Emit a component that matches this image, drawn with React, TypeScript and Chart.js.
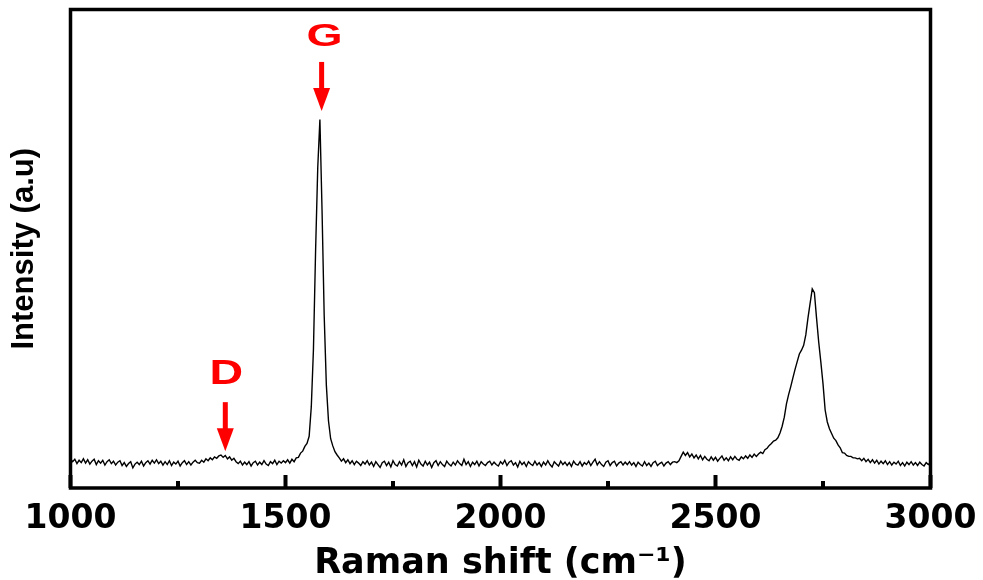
import React, { useEffect, useRef } from "react";
import { Chart, registerables } from "chart.js";

Chart.register(...registerables);

// Raman shift grid (cm^-1)
const X_START = 1000;
const X_STEP = 5;

// Intensity (a.u.), 100 cm^-1 per segment
const seg1000 = [6.1, 5.5, 6.0, 5.1, 5.8, 5.3, 6.1, 5.2, 5.9, 5.0, 5.6, 6.0, 4.9, 5.7, 5.2, 5.8, 4.8, 5.5, 5.9, 5.1];
const seg1100 = [5.6, 4.8, 5.4, 5.7, 4.7, 5.3, 4.5, 5.1, 5.5, 4.2, 5.0, 5.4, 4.9, 5.6, 4.6, 5.3, 5.7, 5.0, 5.8, 5.2];
const seg1200 = [5.9, 5.1, 5.6, 4.8, 5.5, 4.9, 5.7, 4.7, 5.4, 5.0, 5.6, 4.6, 5.3, 5.7, 4.9, 5.5, 4.8, 5.4, 5.8, 5.3];
const seg1300 = [5.2, 5.8, 5.4, 6.1, 5.7, 6.3, 5.9, 6.5, 6.2, 6.7, 6.9, 6.4, 6.8, 6.1, 6.5, 5.8, 6.2, 5.5, 5.1, 5.6];
const seg1400 = [4.8, 5.4, 4.9, 5.5, 4.6, 5.3, 5.6, 4.8, 5.4, 4.9, 5.7, 5.0, 4.7, 5.5, 5.1, 5.8, 4.9, 5.6, 5.2, 5.7];
const seg1500 = [5.3, 5.9, 5.2, 6.0, 5.5, 6.3, 6.4, 7.3, 7.7, 8.7, 9.3, 10.8, 17.0, 29.0, 49.7, 67.0, 77.0, 58.0, 36.0, 21.5];
const seg1600 = [14.0, 10.3, 8.8, 7.6, 6.9, 6.3, 5.6, 6.1, 5.3, 5.9, 5.1, 5.7, 4.9, 5.6, 5.2, 4.7, 5.5, 5.0, 5.7, 4.8];
const seg1700 = [5.4, 4.5, 5.5, 4.9, 4.3, 5.3, 5.6, 4.7, 5.4, 4.4, 5.7, 4.9, 4.6, 5.5, 4.8, 5.9, 4.5, 5.3, 5.6, 4.7];
const seg1800 = [5.5, 4.4, 5.8, 5.0, 4.6, 5.6, 4.8, 5.4, 4.3, 5.3, 5.7, 4.7, 5.5, 4.9, 4.5, 5.6, 5.0, 4.6, 5.4, 4.8];
const seg1900 = [5.7, 5.1, 4.7, 6.0, 4.9, 5.5, 4.5, 5.4, 4.9, 5.6, 4.6, 5.5, 5.0, 4.7, 5.3, 5.6, 4.8, 5.4, 4.9, 4.6];
const seg2000 = [5.5, 5.0, 5.8, 4.7, 5.4, 5.7, 4.8, 5.3, 4.4, 5.6, 4.9, 5.4, 4.5, 5.5, 5.0, 4.7, 5.6, 4.8, 5.3, 4.5];
const seg2100 = [5.4, 4.8, 5.7, 4.9, 4.4, 5.5, 5.0, 4.6, 5.6, 4.9, 5.4, 4.7, 5.3, 4.5, 5.6, 5.0, 4.8, 5.5, 4.6, 5.3];
const seg2200 = [4.9, 5.6, 4.7, 5.4, 6.0, 4.8, 5.5, 4.9, 4.5, 5.4, 5.7, 4.7, 5.3, 5.6, 4.6, 5.2, 5.5, 4.8, 5.4, 4.9];
const seg2300 = [5.5, 4.8, 5.3, 4.5, 5.4, 4.9, 4.6, 5.5, 4.7, 5.2, 4.5, 5.3, 5.6, 4.7, 5.1, 5.4, 4.6, 5.2, 5.5, 4.9];
const seg2400 = [5.4, 5.5, 5.3, 5.7, 6.6, 7.5, 6.8, 7.4, 6.5, 7.1, 6.3, 6.9, 6.1, 6.8, 5.9, 6.6, 6.0, 5.7, 6.5, 5.8];
const seg2500 = [6.4, 5.6, 6.2, 6.7, 5.8, 6.3, 5.7, 6.5, 5.9, 6.6, 6.0, 5.8, 6.5, 6.1, 6.7, 6.2, 6.9, 6.4, 7.1, 6.6];
const seg2600 = [7.1, 7.5, 7.2, 8.0, 8.3, 8.9, 9.3, 9.8, 10.0, 10.5, 11.5, 12.9, 14.8, 17.6, 19.5, 21.2, 23.0, 24.8, 26.4, 28.0];
const seg2700 = [28.8, 29.8, 32.0, 35.5, 38.6, 41.6, 40.8, 35.5, 30.5, 26.3, 21.8, 16.3, 13.8, 12.4, 11.4, 10.4, 9.9, 9.0, 8.4, 7.4];
const seg2800 = [7.3, 6.8, 6.6, 6.6, 6.3, 6.3, 6.1, 6.2, 5.7, 6.2, 5.5, 6.0, 5.3, 5.9, 5.2, 5.8, 5.0, 5.6, 5.1, 5.7];
const seg2900 = [4.9, 5.5, 4.8, 5.4, 5.0, 5.6, 4.7, 5.3, 4.6, 5.4, 4.9, 5.5, 4.8, 5.3, 4.7, 5.4, 4.9, 4.6, 5.3, 4.9, 5.3];

const intensity = [
  ...seg1000, ...seg1100, ...seg1200, ...seg1300, ...seg1400,
  ...seg1500, ...seg1600, ...seg1700, ...seg1800, ...seg1900,
  ...seg2000, ...seg2100, ...seg2200, ...seg2300, ...seg2400,
  ...seg2500, ...seg2600, ...seg2700, ...seg2800, ...seg2900,
];
const ramanShift = intensity.map((_, i) => X_START + i * X_STEP);

// Axis ticks
const xMajorTicks = [1000, 1500, 2000, 2500, 3000];
const xMinorTicks = [1250, 1750, 2250, 2750];
const X_MIN = 1000;
const X_MAX = 3000;
const Y_MIN = 0;
const Y_MAX = 100;

// Peak markers (label, Raman shift of arrow, intensity at arrow tip)
const markerLabels = ["D", "G"];
const markerShift = [1360, 1584];
const markerTip = [7.7, 78.8];

const X_TITLE = "Raman shift (cm\u207B\u00B9)";
const Y_TITLE = "Intensity (a.u)";

const framePlugin = {
  id: "ramanFrame",
  afterDraw(chart: any) {
    const { ctx, chartArea } = chart;
    const xs = chart.scales.x;
    const ys = chart.scales.y;
    const { left, right, top, bottom } = chartArea;
    ctx.save();
    // inward ticks
    ctx.fillStyle = "#000";
    xMajorTicks.forEach((v) => {
      const px = xs.getPixelForValue(v);
      ctx.fillRect(px - 2, bottom - 13, 4, 13);
    });
    xMinorTicks.forEach((v) => {
      const px = xs.getPixelForValue(v);
      ctx.fillRect(px - 2, bottom - 7, 4, 7);
    });
    // frame
    ctx.strokeStyle = "#000";
    ctx.lineWidth = 3.5;
    ctx.strokeRect(left, top, right - left, bottom - top);

    // markers
    ctx.fillStyle = "#ff0000";
    markerLabels.forEach((lab, i) => {
      const px = xs.getPixelForValue(markerShift[i]);
      const tip = ys.getPixelForValue(markerTip[i]);
      const headStart = tip - 23;
      const shaftTop = tip - 49;
      ctx.fillRect(px - 2.5, shaftTop, 5, headStart - shaftTop + 1);
      ctx.beginPath();
      ctx.moveTo(px - 8.5, headStart);
      ctx.lineTo(px + 8.5, headStart);
      ctx.lineTo(px, tip);
      ctx.closePath();
      ctx.fill();
      const isG = lab === "G";
      const fontSize = isG ? 32 : 35;
      const sx = isG ? 1.45 : 1.33;
      const baseY = shaftTop - (isG ? 16 : 18);
      ctx.save();
      ctx.translate(px + (isG ? 3 : 1), baseY);
      ctx.scale(sx, 1);
      ctx.font = `bold ${fontSize}px "Liberation Sans", Arial, sans-serif`;
      ctx.textAlign = "center";
      ctx.textBaseline = "alphabetic";
      ctx.fillText(lab, 0, 0);
      ctx.restore();
    });
    ctx.restore();
  },
};

export default function App() {
  const canvasRef = useRef<HTMLCanvasElement | null>(null);

  useEffect(() => {
    document.body.style.margin = "0";
    const canvas = canvasRef.current;
    if (!canvas) return;
    const points = ramanShift.map((x, i) => ({ x, y: intensity[i] }));
    const chart = new Chart(canvas, {
      type: "line",
      data: {
        datasets: [
          {
            data: points,
            borderColor: "#000",
            borderWidth: 1.4,
            pointRadius: 0,
            tension: 0,
            fill: false,
          },
        ],
      },
      options: {
        animation: false,
        responsive: false,
        devicePixelRatio: 1,
        layout: { padding: { top: 9.5, right: 52.5, left: 0, bottom: 0 } },
        plugins: {
          legend: { display: false },
          tooltip: { enabled: false },
        },
        scales: {
          x: {
            type: "linear",
            min: X_MIN,
            max: X_MAX,
            afterBuildTicks: (scale: any) => {
              scale.ticks = xMajorTicks.map((v) => ({ value: v }));
            },
            afterFit: (scale: any) => {
              scale.height = 92;
            },
            ticks: {
              color: "#000",
              padding: 4,
              maxRotation: 0,
              autoSkip: false,
              font: { family: '"DejaVu Sans"', size: 33, weight: "bold" },
              callback: (v: any) => String(v),
            },
            grid: { display: false, drawTicks: true, tickLength: 8 },
            border: { display: false },
            title: {
              display: true,
              text: X_TITLE,
              color: "#000",
              font: { family: '"DejaVu Sans"', size: 35, weight: "bold" },
              padding: { top: 0, bottom: -5 },
            },
          },
          y: {
            type: "linear",
            min: Y_MIN,
            max: Y_MAX,
            afterFit: (scale: any) => {
              scale.width = 70.5;
            },
            ticks: { display: false },
            grid: { display: false, drawTicks: false },
            border: { display: false },
            title: {
              display: true,
              text: Y_TITLE,
              color: "#000",
              font: { family: '"Liberation Sans"', size: 31, weight: "bold" },
              padding: { top: 6, bottom: 0 },
            },
          },
        },
      },
      plugins: [framePlugin],
    });
    return () => chart.destroy();
  }, []);

  return (
    <div style={{ width: 983, height: 580, background: "#fff" }}>
      <canvas ref={canvasRef} width={983} height={580} style={{ display: "block" }} />
    </div>
  );
}
